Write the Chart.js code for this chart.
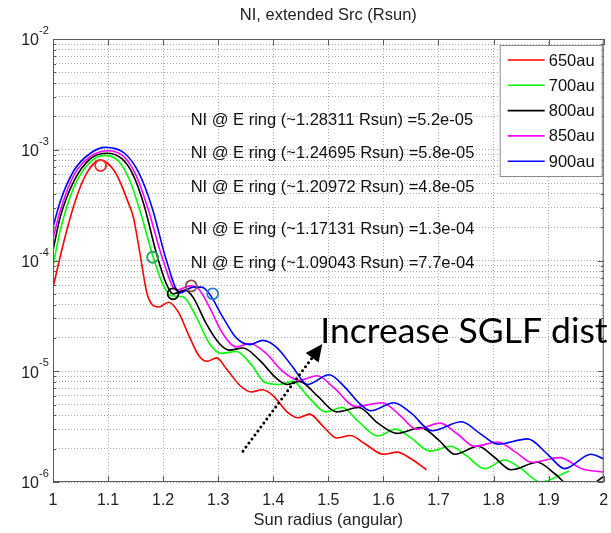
<!DOCTYPE html>
<html>
<head>
<meta charset="utf-8">
<script src="https://cdn.jsdelivr.net/npm/chart.js@4"></script>
<style>
  html, body { margin: 0; padding: 0; background: #fff; }
</style>
</head>
<body>
<canvas id="chart" width="611" height="533"></canvas>
<script>
// curves (x = sun radius, y = NI)
const x650 = [1.0, 1.02, 1.04, 1.06, 1.086, 1.11, 1.122, 1.135, 1.146, 1.158, 1.17, 1.18, 1.192, 1.21, 1.228, 1.245, 1.265, 1.28, 1.297, 1.315, 1.34, 1.36, 1.38, 1.40, 1.425, 1.445, 1.466, 1.49, 1.515, 1.54, 1.565, 1.60, 1.625, 1.65, 1.678];
const y650 = [5.7e-5, 1.5e-4, 3.4e-4, 6.0e-4, 8.1e-4, 6.6e-4, 5.1e-4, 3.5e-4, 2.45e-4, 1.15e-4, 5.2e-5, 4.0e-5, 3.8e-5, 4.2e-5, 3.4e-5, 2.2e-5, 1.38e-5, 1.23e-5, 1.32e-5, 1.05e-5, 7.4e-6, 6.5e-6, 6.8e-6, 6.0e-6, 4.3e-6, 3.8e-6, 4.1e-6, 3.2e-6, 2.5e-6, 2.63e-6, 2.24e-6, 1.78e-6, 1.86e-6, 1.62e-6, 1.29e-6];

const x700 = [1.0, 1.013, 1.038, 1.068, 1.095, 1.12, 1.14, 1.16, 1.182, 1.2, 1.215, 1.236, 1.26, 1.284, 1.305, 1.333, 1.36, 1.385, 1.41, 1.435, 1.465, 1.495, 1.525, 1.555, 1.59, 1.622, 1.65, 1.685, 1.722, 1.75, 1.784, 1.82, 1.85, 1.885, 1.937];
const y700 = [8.9e-5, 1.86e-4, 4.6e-4, 7.8e-4, 8.9e-4, 7.8e-4, 5.2e-4, 2.6e-4, 1.07e-4, 6.0e-5, 4.8e-5, 4.7e-5, 3.1e-5, 1.78e-5, 1.45e-5, 1.51e-5, 1.15e-5, 7.9e-6, 7.6e-6, 8.1e-6, 5.75e-6, 4.3e-6, 4.7e-6, 3.5e-6, 2.6e-6, 3.0e-6, 2.5e-6, 1.9e-6, 2.1e-6, 1.74e-6, 1.32e-6, 1.58e-6, 1.32e-6, 1.0e-6, 1.26e-6];

const x800 = [1.0, 1.013, 1.038, 1.068, 1.098, 1.125, 1.145, 1.165, 1.188, 1.205, 1.218, 1.24, 1.255, 1.278, 1.302, 1.32, 1.345, 1.375, 1.405, 1.425, 1.447, 1.48, 1.515, 1.555, 1.59, 1.625, 1.668, 1.70, 1.73, 1.772, 1.80, 1.832, 1.88, 1.91, 1.945, 1.965, 2.0];
const y800 = [1.23e-4, 2.45e-4, 5.2e-4, 8.3e-4, 9.3e-4, 8.3e-4, 6.0e-4, 3.2e-4, 1.15e-4, 6.3e-5, 5.0e-5, 5.4e-5, 4.6e-5, 2.7e-5, 1.78e-5, 1.55e-5, 1.62e-5, 1.26e-5, 8.7e-6, 7.6e-6, 8.1e-6, 6.0e-6, 4.3e-6, 4.7e-6, 3.4e-6, 2.75e-6, 3.1e-6, 2.4e-6, 1.78e-6, 2.1e-6, 1.7e-6, 1.29e-6, 1.51e-6, 1.2e-6, 8.9e-7, 8.9e-7, 1.12e-6];

const x850 = [1.0, 1.013, 1.038, 1.068, 1.10, 1.128, 1.15, 1.172, 1.2, 1.224, 1.25, 1.265, 1.284, 1.308, 1.333, 1.357, 1.387, 1.417, 1.447, 1.48, 1.51, 1.55, 1.598, 1.63, 1.66, 1.703, 1.735, 1.765, 1.808, 1.84, 1.87, 1.92, 1.96, 2.0];
const y850 = [1.58e-4, 2.8e-4, 5.9e-4, 8.7e-4, 9.8e-4, 8.7e-4, 6.0e-4, 3.0e-4, 1.0e-4, 5.4e-5, 5.9e-5, 5.5e-5, 3.8e-5, 2.2e-5, 1.66e-5, 1.78e-5, 1.45e-5, 1.0e-5, 8.3e-6, 9.1e-6, 7.1e-6, 4.8e-6, 5.2e-6, 4.0e-6, 3.0e-6, 3.4e-6, 2.7e-6, 2.1e-6, 2.3e-6, 1.86e-6, 1.5e-6, 1.66e-6, 1.32e-6, 1.23e-6];

const x900 = [1.0, 1.013, 1.038, 1.068, 1.095, 1.13, 1.155, 1.18, 1.206, 1.23, 1.255, 1.27, 1.284, 1.308, 1.333, 1.357, 1.381, 1.405, 1.435, 1.462, 1.501, 1.53, 1.555, 1.577, 1.619, 1.65, 1.688, 1.742, 1.775, 1.808, 1.862, 1.9, 1.929, 1.977, 2.0];
const y900 = [2.0e-4, 3.4e-4, 6.5e-4, 9.3e-4, 1.05e-3, 9.3e-4, 6.3e-4, 3.0e-4, 1.0e-4, 5.1e-5, 5.75e-5, 5.75e-5, 5.0e-5, 3.1e-5, 2.0e-5, 1.74e-5, 1.9e-5, 1.66e-5, 1.1e-5, 7.6e-6, 9.3e-6, 7.2e-6, 5.2e-6, 4.4e-6, 5.2e-6, 4.2e-6, 2.9e-6, 3.5e-6, 2.75e-6, 2.2e-6, 2.45e-6, 1.74e-6, 1.32e-6, 1.78e-6, 1.62e-6];

const seriesLabels = ['650au', '700au', '800au', '850au', '900au'];
const seriesColors = ['#ff0000', '#00ff00', '#000000', '#ff00ff', '#0000ff'];

// the "o" markers on the E ring
const ringX = [1.0865, 1.181, 1.218, 1.251, 1.29];
const ringY = [7.2e-4, 1.07e-4, 5.0e-5, 5.9e-5, 5.0e-5];
const ringColors = ['#e8302a', '#23a45e', '#000000', '#8c4a4a', '#2280cc'];

const noteLines = [
  'NI @ E ring (~1.28311 Rsun) =5.2e-05',
  'NI @ E ring (~1.24695 Rsun) =5.8e-05',
  'NI @ E ring (~1.20972 Rsun) =4.8e-05',
  'NI @ E ring (~1.17131 Rsun) =1.3e-04',
  'NI @ E ring (~1.09043 Rsun) =7.7e-04'
];
const noteX = 1.25;
const noteY = [1.85e-3, 9.3e-4, 4.6e-4, 1.89e-4, 9.4e-5];

const arrowFrom = [1.345, 1.9e-6];
const arrowTo = [1.489, 1.76e-5];
const arrowText = 'Increase SGLF dist';

const xTicks = [1, 1.1, 1.2, 1.3, 1.4, 1.5, 1.6, 1.7, 1.8, 1.9, 2];
const xTickLabels = ['1', '1.1', '1.2', '1.3', '1.4', '1.5', '1.6', '1.7', '1.8', '1.9', '2'];
const yDecades = [1e-6, 1e-5, 1e-4, 1e-3, 1e-2];
const yExps = ['-6', '-5', '-4', '-3', '-2'];
const yMinorMult = [2, 3, 4, 5, 6, 7, 8, 9];

const titleText = 'NI, extended Src (Rsun)';
const xTitle = 'Sun radius (angular)';

const FONT = '"Liberation Sans", Arial, sans-serif';

const yGrid = [];
yDecades.forEach((d, i) => {
  yGrid.push(d);
  if (i < yDecades.length - 1) yMinorMult.forEach(m => yGrid.push(d * m));
});

const seriesX = [x650, x700, x800, x850, x900];
const seriesY = [y650, y700, y800, y850, y900];

const datasets = seriesLabels.map((label, i) => ({
  type: 'line',
  label,
  data: seriesX[i].map((x, j) => ({ x, y: seriesY[i][j] })),
  borderColor: seriesColors[i],
  borderWidth: 1.6,
  pointRadius: 0,
  cubicInterpolationMode: 'monotone',
  clip: 0,
  order: 5 - i
}));

datasets.push({
  type: 'scatter',
  label: 'ring',
  data: ringX.map((x, j) => ({ x, y: ringY[j] })),
  pointStyle: 'circle',
  pointRadius: 5.5,
  pointBorderWidth: 1.8,
  pointBorderColor: ringColors,
  pointBackgroundColor: 'rgba(0,0,0,0)',
  order: 0
});

const overlay = {
  id: 'overlay',
  afterDraw(chart) {
    const { ctx, chartArea: a, scales: { x, y } } = chart;
    ctx.save();

    // axes box and ticks
    ctx.strokeStyle = '#5a5a5a';
    ctx.lineWidth = 1;
    ctx.strokeRect(a.left + 0.5, a.top + 0.5, a.width - 1, a.height - 1);
    ctx.beginPath();
    xTicks.forEach(v => {
      const px = Math.round(x.getPixelForValue(v)) + 0.5;
      ctx.moveTo(px, a.bottom); ctx.lineTo(px, a.bottom - 6);
      ctx.moveTo(px, a.top); ctx.lineTo(px, a.top + 6);
    });
    yGrid.forEach(v => {
      const py = Math.round(y.getPixelForValue(v)) + 0.5;
      const len = yDecades.includes(v) ? 6 : 3;
      ctx.moveTo(a.left, py); ctx.lineTo(a.left + len, py);
      ctx.moveTo(a.right, py); ctx.lineTo(a.right - len, py);
    });
    ctx.stroke();

    // tick labels
    ctx.fillStyle = '#222';
    ctx.font = '16px ' + FONT;
    ctx.textAlign = 'center';
    ctx.textBaseline = 'middle';
    xTicks.forEach((v, i) => {
      ctx.fillText(xTickLabels[i], x.getPixelForValue(v), a.bottom + 19);
    });
    yDecades.forEach((v, i) => {
      const py = y.getPixelForValue(v);
      ctx.font = '16px ' + FONT;
      ctx.textAlign = 'right';
      ctx.fillText('10', a.left - 14, py + 2);
      ctx.font = '11px ' + FONT;
      ctx.textAlign = 'left';
      ctx.fillText(yExps[i], a.left - 14, py - 8);
    });

    // titles
    ctx.font = '16.5px ' + FONT;
    ctx.textAlign = 'center';
    ctx.fillText(titleText, (a.left + a.right) / 2, 15);
    ctx.fillText(xTitle, (a.left + a.right) / 2, a.bottom + 38);

    // ring notes
    ctx.textAlign = 'left';
    ctx.fillStyle = '#111';
    noteLines.forEach((t, i) => {
      ctx.fillText(t, x.getPixelForValue(noteX), y.getPixelForValue(noteY[i]));
    });

    // legend
    const lw = 102, lh = 131;
    const lx = a.right - lw - 2, ly = a.top + 6;
    ctx.fillStyle = '#fff';
    ctx.fillRect(lx, ly, lw, lh);
    ctx.strokeStyle = '#8c8c8c';
    ctx.strokeRect(lx + 0.5, ly + 0.5, lw, lh);
    seriesLabels.forEach((lab, i) => {
      const cy = ly + 15 + i * 25.3;
      ctx.strokeStyle = seriesColors[i];
      ctx.lineWidth = 1.6;
      ctx.beginPath();
      ctx.moveTo(lx + 8, cy); ctx.lineTo(lx + 45, cy);
      ctx.stroke();
      ctx.fillStyle = '#111';
      ctx.fillText(lab, lx + 49, cy + 1);
    });

    // dotted arrow
    const x0 = x.getPixelForValue(arrowFrom[0]), y0 = y.getPixelForValue(arrowFrom[1]);
    const x1 = x.getPixelForValue(arrowTo[0]), y1 = y.getPixelForValue(arrowTo[1]);
    const ang = Math.atan2(y1 - y0, x1 - x0);
    const head = 17, half = 8;
    const bx = x1 - head * Math.cos(ang), by = y1 - head * Math.sin(ang);
    ctx.strokeStyle = '#000';
    ctx.lineWidth = 3;
    ctx.lineCap = 'round';
    ctx.setLineDash([0, 5]);
    ctx.beginPath();
    ctx.moveTo(x0, y0); ctx.lineTo(bx, by);
    ctx.stroke();
    ctx.setLineDash([]);
    ctx.fillStyle = '#000';
    ctx.beginPath();
    ctx.moveTo(x1, y1);
    ctx.lineTo(bx + half * Math.sin(ang), by - half * Math.cos(ang));
    ctx.lineTo(bx - half * Math.sin(ang), by + half * Math.cos(ang));
    ctx.closePath();
    ctx.fill();

    ctx.font = '35.5px Lato, "Open Sans", sans-serif';
    ctx.textAlign = 'left';
    ctx.textBaseline = 'alphabetic';
    ctx.fillText(arrowText, x1 - 2, y1 - 1);

    ctx.restore();
  }
};

new Chart(document.getElementById('chart'), {
  data: { datasets },
  options: {
    responsive: false,
    animation: false,
    devicePixelRatio: 1,
    layout: { padding: { left: 53, right: 5, top: 39, bottom: 51 } },
    plugins: { legend: { display: false }, tooltip: { enabled: false }, title: { display: false } },
    scales: {
      x: {
        type: 'linear',
        min: 1,
        max: 2,
        afterBuildTicks: s => { s.ticks = xTicks.map(v => ({ value: v })); },
        ticks: { display: false },
        grid: { color: '#a8a8a8', lineWidth: 1, drawTicks: false },
        border: { display: false, dash: [1, 2] }
      },
      y: {
        type: 'logarithmic',
        min: 1e-6,
        max: 1e-2,
        afterBuildTicks: s => { s.ticks = yGrid.map(v => ({ value: v })); },
        ticks: { display: false },
        grid: { color: '#a8a8a8', lineWidth: 1, drawTicks: false },
        border: { display: false, dash: [1, 2] }
      }
    }
  },
  plugins: [overlay]
});
</script>
</body>
</html>
